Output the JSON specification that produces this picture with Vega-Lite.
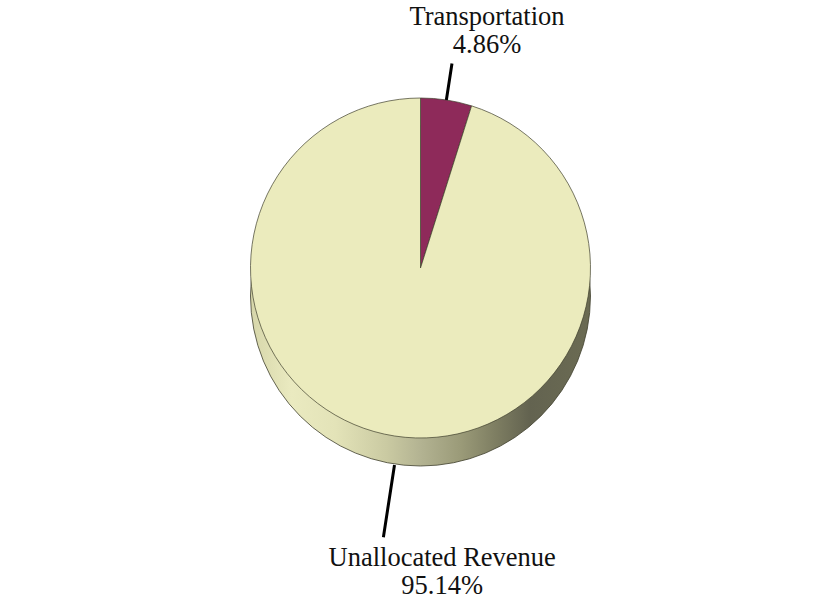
{
  "$schema": "https://vega.github.io/schema/vega-lite/v6.json",
  "width": 805,
  "height": 536,
  "autosize": {"type": "none"},
  "padding": {"left": 18, "right": 0, "top": 0, "bottom": 71},
  "background": "white",
  "config": {"view": {"stroke": null}, "text": {"font": "Liberation Serif"}},
  "data": {
    "values": [
      {"category": "Transportation", "value": 4.86, "label": "Transportation\n4.86%"},
      {"category": "Unallocated Revenue", "value": 95.14, "label": "Unallocated Revenue\n95.14%"}
    ]
  },
  "layer": [
    {
      "transform": [{"aggregate": [{"op": "sum", "field": "value", "as": "total"}]}],
      "mark": {
        "type": "arc",
        "radius": 170,
        "yOffset": 28,
        "stroke": "#3f3f2c",
        "strokeWidth": 0.8,
        "fill": {
          "gradient": "linear",
          "x1": 0, "y1": 0, "x2": 1, "y2": 0,
          "stops": [
            {"offset": 0, "color": "#d6d6aa"},
            {"offset": 0.12, "color": "#eaeac0"},
            {"offset": 0.25, "color": "#e3e3b8"},
            {"offset": 0.4, "color": "#cacaa2"},
            {"offset": 0.5, "color": "#b3b392"},
            {"offset": 0.62, "color": "#9a9a78"},
            {"offset": 0.72, "color": "#7e7e62"},
            {"offset": 0.82, "color": "#636350"},
            {"offset": 1, "color": "#6b6b53"}
          ]
        }
      },
      "encoding": {"theta": {"field": "total", "type": "quantitative"}}
    },
    {
      "mark": {"type": "arc", "radius": 170, "stroke": "#3f3f2c", "strokeWidth": 0.7},
      "encoding": {
        "theta": {"field": "value", "type": "quantitative", "stack": true},
        "color": {
          "field": "category",
          "type": "nominal",
          "scale": {"domain": ["Transportation", "Unallocated Revenue"], "range": ["#8e2a5a", "#ebebbd"]},
          "legend": null
        }
      }
    },
    {
      "transform": [
        {"fold": ["value", "value"], "as": ["k", "v"]},
        {"stack": "v", "groupby": [], "sort": [{"field": "category"}], "as": ["s0", "s1"], "offset": "normalize"},
        {"aggregate": [{"op": "min", "field": "s1", "as": "mid"}], "groupby": ["category", "label"]}
      ],
      "layer": [
        {
          "transform": [{"filter": "datum.category == 'Transportation'"}],
          "mark": {"type": "arc", "radius": 207, "radius2": 170, "stroke": "black", "strokeWidth": 3, "fill": null},
          "encoding": {
            "theta": {"field": "mid", "type": "quantitative", "scale": {"domain": [0, 1]}},
            "theta2": {"field": "mid"}
          }
        },
        {
          "transform": [{"filter": "datum.category == 'Unallocated Revenue'"}],
          "mark": {"type": "arc", "radius": 244, "radius2": 171, "yOffset": 28, "stroke": "black", "strokeWidth": 3, "fill": null},
          "encoding": {
            "theta": {"field": "mid", "type": "quantitative", "scale": {"domain": [0, 1]}},
            "theta2": {"field": "mid"}
          }
        },
        {
          "transform": [{"filter": "datum.category == 'Transportation'"}],
          "mark": {"type": "text", "radius": 240, "dx": 30, "baseline": "bottom", "lineBreak": "\n", "fontSize": 26.5, "lineHeight": 28, "color": "#111"},
          "encoding": {
            "theta": {"field": "mid", "type": "quantitative", "scale": {"domain": [0, 1]}},
            "text": {"field": "label"}
          }
        },
        {
          "transform": [{"filter": "datum.category == 'Unallocated Revenue'"}],
          "mark": {"type": "text", "radius": 252, "yOffset": 28, "dx": 60, "baseline": "top", "lineBreak": "\n", "fontSize": 26.5, "lineHeight": 28, "color": "#111"},
          "encoding": {
            "theta": {"field": "mid", "type": "quantitative", "scale": {"domain": [0, 1]}},
            "text": {"field": "label"}
          }
        }
      ]
    }
  ],
  "resolve": {"scale": {"theta": "independent"}}
}
